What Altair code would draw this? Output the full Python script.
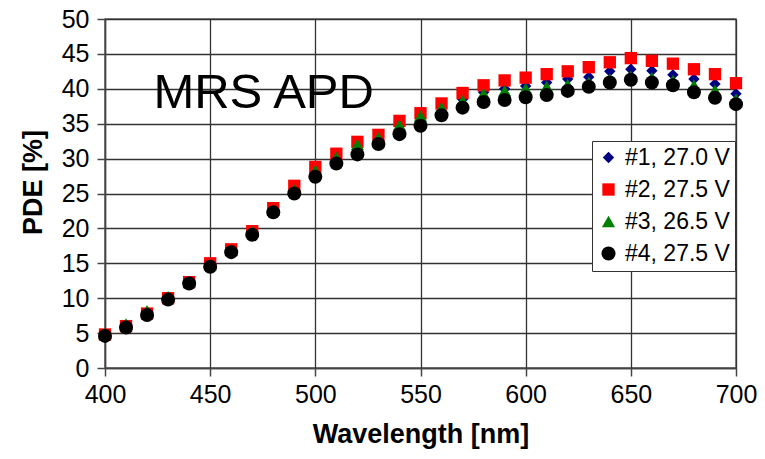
import altair as alt
import pandas as pd

wavelengths = list(range(400, 701, 10))

series_names = ["#1, 27.0 V", "#2, 27.5 V", "#3, 26.5 V", "#4, 27.5 V"]

pde_1 = [4.9, 6.1, 8.0, 10.1, 12.3, 14.7, 16.8, 19.4, 22.5, 25.4, 28.1, 30.1, 31.8, 33.0, 34.9, 36.1,
         37.3, 38.5, 39.5, 40.0, 40.4, 40.9, 41.4, 41.7, 42.5, 42.8, 42.6, 42.0, 41.4, 40.7, 39.3]
pde_2 = [4.8, 6.0, 7.8, 10.0, 12.3, 15.0, 17.0, 19.6, 22.9, 26.1, 28.8, 30.7, 32.4, 33.4, 35.4, 36.5,
         37.9, 39.4, 40.5, 41.2, 41.6, 42.1, 42.5, 43.1, 43.8, 44.4, 44.0, 43.6, 42.8, 42.1, 40.8]
pde_3 = [5.0, 6.3, 8.2, 10.2, 12.4, 14.8, 16.9, 19.5, 22.6, 25.5, 28.3, 30.2, 32.0, 33.0, 34.8, 36.1,
         37.3, 38.3, 39.3, 39.7, 40.0, 40.3, 40.6, 40.9, 41.4, 41.8, 41.6, 41.2, 40.5, 39.8, 38.5]
pde_4 = [4.6, 5.8, 7.6, 9.8, 12.1, 14.5, 16.6, 19.1, 22.3, 25.0, 27.4, 29.3, 30.6, 32.1, 33.5, 34.7,
         36.2, 37.3, 38.1, 38.4, 38.8, 39.1, 39.7, 40.3, 40.9, 41.3, 40.9, 40.5, 39.5, 38.7, 37.8]

colors = ["#000080", "#FF0000", "#008000", "#000000"]
shapes = ["diamond", "square", "triangle-up", "circle"]
sizes = [130, 196, 170, 196]

x_ticks = list(range(400, 701, 50))
y_ticks = list(range(0, 51, 5))

annotation_text = ["MRS APD"]
annotation_x = [423]
annotation_y = [39.4]

FONT = "Liberation Sans"

rows = []
for name, vals in zip(series_names, [pde_1, pde_2, pde_3, pde_4]):
    for wl, v in zip(wavelengths, vals):
        rows.append({"wl": wl, "pde": v, "series": name})
df = pd.DataFrame(rows)

ann = pd.DataFrame({"wl": annotation_x, "pde": annotation_y, "label": annotation_text})

x_enc = alt.X("wl:Q", scale=alt.Scale(domain=[400, 700], nice=False, zero=False),
              axis=alt.Axis(values=x_ticks, title="Wavelength [nm]", labelPadding=6,
                            titlePadding=14, format="d", labelFlush=False,
                            labelOverlap=False))
y_enc = alt.Y("pde:Q", scale=alt.Scale(domain=[0, 50], nice=False),
              axis=alt.Axis(values=y_ticks, title="PDE [%]", labelPadding=8, titlePadding=14,
                            labelFlush=False, labelOverlap=False, titleY=163))

legend_opts = dict(orient="none", legendX=487, legendY=122, title=None)

points = alt.Chart(df).mark_point(filled=True, opacity=1, strokeWidth=0).encode(
    x=x_enc,
    y=y_enc,
    color=alt.Color("series:N", title=None,
                    scale=alt.Scale(domain=series_names, range=colors),
                    legend=alt.Legend(**legend_opts)),
    shape=alt.Shape("series:N", title=None,
                    scale=alt.Scale(domain=series_names, range=shapes),
                    legend=alt.Legend(**legend_opts)),
    size=alt.Size("series:N", scale=alt.Scale(domain=series_names, range=sizes), legend=None),
)

text = alt.Chart(ann).mark_text(fontSize=49, align="left", baseline="middle", font=FONT,
                                color="black").encode(
    x=x_enc, y=y_enc, text="label:N")

chart = alt.layer(points, text).properties(
    width=631, height=349,
    autosize=alt.AutoSizeParams(type="none"),
    padding={"left": 97, "top": 11, "right": 21, "bottom": 83},
).configure_axis(
    labelFont=FONT, labelFontSize=25, labelColor="black",
    titleFont=FONT, titleFontSize=27, titleFontWeight="bold", titleColor="black",
    gridColor="#333333", gridWidth=1.3, gridOpacity=1,
    domainColor="#444444", domainWidth=1.5,
    tickColor="#444444", tickWidth=1.5, tickSize=8,
).configure_legend(
    strokeColor="#333333", fillColor="white", padding=5,
    labelFont=FONT, labelFontSize=23, labelColor="black",
    symbolSize=100, rowPadding=8, labelOffset=5, symbolStrokeWidth=0,
).configure_view(stroke="#666666", strokeWidth=1.5)

chart.save("out.html", embed_options={"renderer": "svg", "actions": False})
